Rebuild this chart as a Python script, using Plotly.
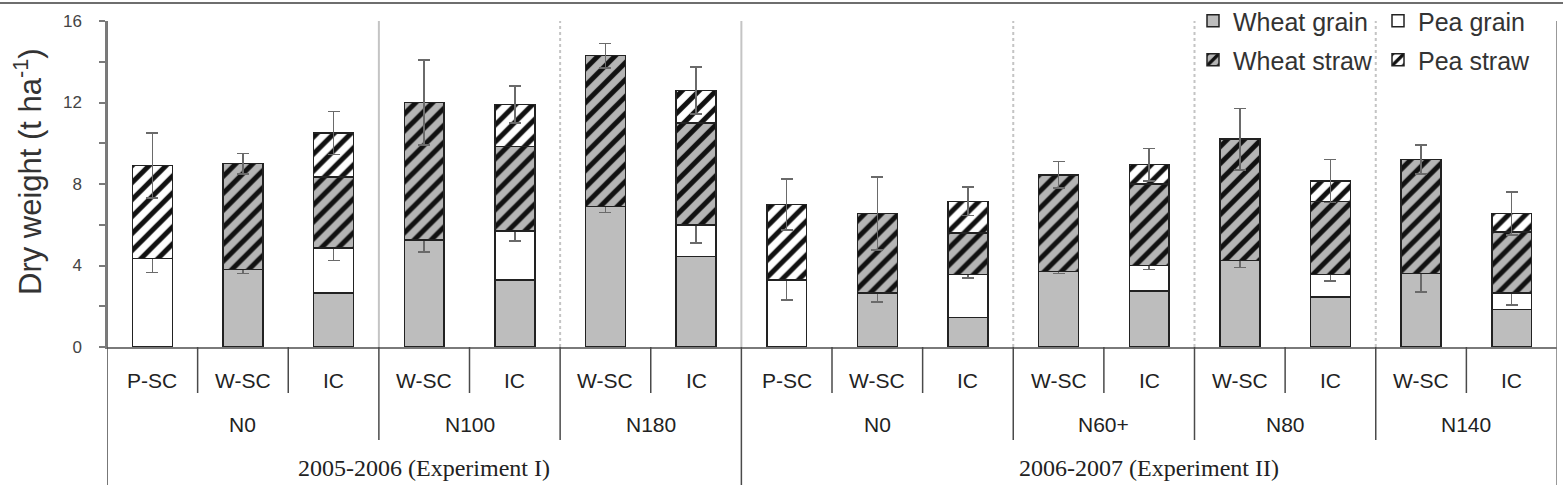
import plotly.graph_objects as go

# ---------------- data ----------------
categories = ["P-SC", "W-SC", "IC", "W-SC", "IC", "W-SC", "IC",
              "P-SC", "W-SC", "IC", "W-SC", "IC", "W-SC", "IC", "W-SC", "IC"]
n_levels = ["N0", "N0", "N0", "N100", "N100", "N180", "N180",
            "N0", "N0", "N0", "N60+", "N60+", "N80", "N80", "N140", "N140"]
seasons = ["2005-2006 (Experiment I)"] * 7 + ["2006-2007 (Experiment II)"] * 9

wheat_grain = [0, 3.8, 2.65, 5.25, 3.3, 6.9, 4.45, 0, 2.65, 1.45, 3.7, 2.75, 4.25, 2.45, 3.6, 1.85]
pea_grain = [4.35, 0, 2.2, 0, 2.4, 0, 1.55, 3.3, 0, 2.1, 0, 1.25, 0, 1.1, 0, 0.8]
wheat_straw = [0, 5.2, 3.5, 6.75, 4.15, 7.4, 5.0, 0, 3.9, 2.05, 4.75, 4.0, 5.95, 3.6, 5.6, 3.0]
pea_straw = [4.55, 0, 2.15, 0, 2.05, 0, 1.6, 3.7, 0, 1.55, 0, 0.95, 0, 1.0, 0, 0.9]

grain_err = [0.7, 0.2, 0.6, 0.6, 0.5, 0.3, 0.9, 1.0, 0.45, 0.15, 0.1, 0.2, 0.35, 0.3, 0.9, 0.6]
total_err = [1.6, 0.5, 1.05, 2.1, 0.9, 0.6, 1.15, 1.25, 1.8, 0.7, 0.65, 0.8, 1.5, 1.05, 0.7, 1.05]

y_ticks = [0, 4, 8, 12, 16]

# ---------------- helpers ----------------
N = len(categories)
xs = list(range(N))


def nz(v):
    return [a if a else None for a in v]


def err_for(values, errs):
    return [e if v else None for v, e in zip(values, errs)]


# error bar sits on the topmost grain / straw segment of each bar
wg_err = err_for([w if not p else 0 for w, p in zip(wheat_grain, pea_grain)], grain_err)
pg_err = err_for(pea_grain, grain_err)
ws_err = err_for([w if not p else 0 for w, p in zip(wheat_straw, pea_straw)], total_err)
ps_err = err_for(pea_straw, total_err)

LINE = dict(color="#222222", width=1.5)
ERR = dict(type="data", visible=True, color="#6a6a6a", thickness=1.6, width=6)
BW = 0.44
fig = go.Figure()

fig.add_trace(go.Bar(x=xs, y=nz(wheat_grain), name="Wheat grain", width=BW,
                     marker=dict(color="#bdbdbd", line=LINE),
                     error_y=dict(array=wg_err, **ERR), legend="legend"))
fig.add_trace(go.Bar(x=xs, y=nz(pea_grain), name="Pea grain", width=BW,
                     marker=dict(color="white", line=LINE),
                     error_y=dict(array=pg_err, **ERR), legend="legend2"))
fig.add_trace(go.Bar(x=xs, y=nz(wheat_straw), name="Wheat straw", width=BW,
                     marker=dict(color="#b5b5b5", line=LINE,
                                 pattern=dict(shape="/", fgcolor="#111111", bgcolor="#b5b5b5",
                                              size=12, solidity=0.42, fillmode="replace")),
                     error_y=dict(array=ws_err, **ERR), legend="legend3"))
fig.add_trace(go.Bar(x=xs, y=nz(pea_straw), name="Pea straw", width=BW,
                     marker=dict(color="white", line=LINE,
                                 pattern=dict(shape="/", fgcolor="#111111", bgcolor="white",
                                              size=12, solidity=0.42, fillmode="replace")),
                     error_y=dict(array=ps_err, **ERR), legend="legend4"))

# ---------------- layout geometry ----------------
W, H = 1563, 485
ML, MR, MT, MB = 107, 6, 21, 138
PW, PH = W - ML - MR, H - MT - MB


def py(pix):  # pixel row -> paper y
    return (H - MB - pix) / PH


def px(pix):  # pixel column -> paper x
    return (pix - ML) / PW


shapes = []
annotations = []

group_runs = []
start = 0
for i in range(1, N + 1):
    if i == N or n_levels[i] != n_levels[start] or seasons[i] != seasons[start]:
        group_runs.append((n_levels[start], start, i - 1))
        start = i
season_runs = []
start = 0
for i in range(1, N + 1):
    if i == N or seasons[i] != seasons[start]:
        season_runs.append((seasons[start], start, i - 1))
        start = i

group_bounds = set(r[1] - 0.5 for r in group_runs[1:])
season_bounds = set(r[1] - 0.5 for r in season_runs[1:])

TABLE = "#4a4a4a"
# dividers of the category table below the axis
for i in range(1, N):
    b = i - 0.5
    if b in season_bounds:
        y1 = py(H)
    elif b in group_bounds:
        y1 = py(440)
    else:
        y1 = py(393)
    shapes.append(dict(type="line", xref="x", yref="paper", x0=b, x1=b, y0=0, y1=y1,
                       line=dict(color=TABLE, width=1.5), layer="above"))
# outer edges
for b in (-0.5, N - 0.5):
    shapes.append(dict(type="line", xref="x", yref="paper", x0=b, x1=b, y0=py(H), y1=1,
                       line=dict(color=TABLE if b < 0 else "#777777", width=1.5), layer="above"))

# vertical separators inside the plot
for b in sorted(group_bounds | season_bounds):
    solid = b in season_bounds or b == 2.5
    shapes.append(dict(type="line", xref="x", yref="paper", x0=b, x1=b, y0=0, y1=1,
                       line=dict(color="#c4c4c4", width=2, dash="solid" if solid else "dot"),
                       layer="below"))

# top border line of the figure
shapes.append(dict(type="line", xref="paper", yref="paper", x0=px(0), x1=px(W), y0=py(3), y1=py(3),
                   line=dict(color="#6e6e6e", width=2)))

SANS = "Liberation Sans, Arial"
for i, c in enumerate(categories):
    annotations.append(dict(x=i, y=py(380), xref="x", yref="paper", text=c, showarrow=False,
                            font=dict(family=SANS, size=21, color="#222222"),
                            xanchor="center", yanchor="middle"))
for lab, a, b in group_runs:
    annotations.append(dict(x=(a + b) / 2, y=py(424), xref="x", yref="paper", text=lab, showarrow=False,
                            font=dict(family=SANS, size=21, color="#222222"),
                            xanchor="center", yanchor="middle"))
for lab, a, b in season_runs:
    annotations.append(dict(x=(a + b) / 2, y=py(468), xref="x", yref="paper", text=lab, showarrow=False,
                            font=dict(family="Liberation Serif, Times New Roman", size=24, color="#222222"),
                            xanchor="center", yanchor="middle"))
annotations.append(dict(x=px(28), y=py(172), xref="paper", yref="paper",
                        text="Dry weight (t ha<sup>-1</sup>)", textangle=-90, showarrow=False,
                        font=dict(family=SANS, size=31, color="#333333"),
                        xanchor="center", yanchor="middle"))

legend_common = dict(orientation="h", xanchor="left", yanchor="top", bgcolor="rgba(0,0,0,0)",
                     font=dict(family=SANS, size=25, color="#333333"),
                     itemwidth=30, tracegroupgap=0)

fig.update_layout(
    width=W, height=H,
    margin=dict(l=ML, r=MR, t=MT, b=MB, autoexpand=False),
    plot_bgcolor="white", paper_bgcolor="white",
    barmode="stack",
    showlegend=True,
    legend=dict(x=px(1193), y=py(-2), **legend_common),
    legend2=dict(x=px(1378), y=py(-2), **legend_common),
    legend3=dict(x=px(1193), y=py(37), **legend_common),
    legend4=dict(x=px(1378), y=py(37), **legend_common),
    xaxis=dict(range=[-0.5, N - 0.5], showticklabels=False, ticks="", showgrid=False,
               zeroline=False, showline=True, linecolor="#7a7a7a", linewidth=1.5),
    yaxis=dict(range=[0, 16], tickvals=y_ticks, ticks="outside", ticklen=6, tickcolor="#7a7a7a",
               tickwidth=1.5, minor=dict(dtick=2, ticks="outside", ticklen=6, tickcolor="#7a7a7a"),
               showgrid=False, zeroline=False, showline=True, linecolor="#7a7a7a", linewidth=1.5,
               tickfont=dict(family=SANS, size=17, color="#444444"),
               ticklabelstandoff=14),
    shapes=shapes,
    annotations=annotations,
)

fig.write_html("out.html")
